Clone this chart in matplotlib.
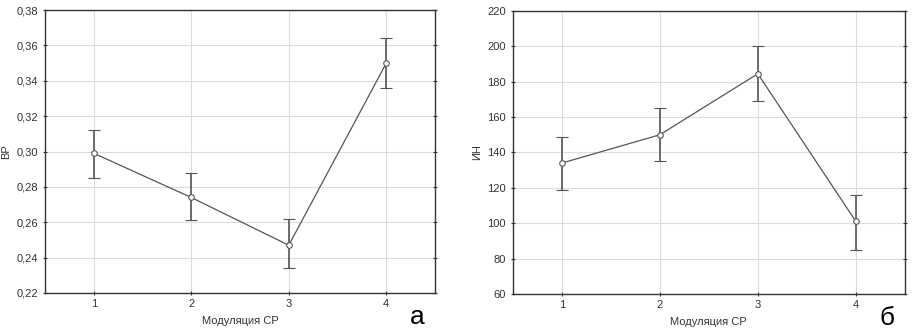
import matplotlib
matplotlib.use("Agg")
import matplotlib.pyplot as plt
from matplotlib.ticker import FuncFormatter

plt.rcParams['font.family'] = ['Liberation Sans', 'DejaVu Sans']

# data
groups = [1, 2, 3, 4]
vr_mean = [0.299, 0.274, 0.247, 0.350]
vr_low = [0.285, 0.261, 0.234, 0.336]
vr_high = [0.312, 0.288, 0.262, 0.364]
in_mean = [134, 150, 184.5, 101]
in_low = [119, 135, 169, 85]
in_high = [149, 165, 200, 116]
x_label = "Модуляция СР"


def draw_panel(ax, mean, low, high, ylim, yticks, ylabel, letter, fmt):
    err = [[m - l for m, l in zip(mean, low)], [h - m for m, h in zip(mean, high)]]
    ax.errorbar(groups, mean, yerr=err, color="#555555", lw=0.9, elinewidth=1.2,
                capsize=4.5, capthick=1.2, marker="o", ms=4, mfc="white",
                mec="#555555", mew=0.8, zorder=3)
    ax.set_xlim(0.5, 4.5)
    ax.set_ylim(*ylim)
    ax.set_xticks(groups)
    ax.set_yticks(yticks)
    ax.yaxis.set_major_formatter(FuncFormatter(fmt))
    ax.grid(True, color="#dddddd", lw=0.8)
    ax.set_axisbelow(True)
    for s in ax.spines.values():
        s.set_color("#333333")
        s.set_linewidth(1.0)
    ax.tick_params(axis="both", labelsize=8, colors="#333333", length=3,
                   direction="inout", width=0.8)
    ax.tick_params(axis="y", right=True)
    ax.tick_params(axis="x", pad=3)
    ax.set_ylabel(ylabel, fontsize=8, color="#333333", labelpad=4)
    ax.set_xlabel(x_label, fontsize=8, color="#333333", labelpad=5)
    ax.text(0.955, -0.085, letter, transform=ax.transAxes, fontsize=19,
            ha="center", va="center", color="black")


fig = plt.figure(figsize=(9.14, 3.34), dpi=100)
ax1 = fig.add_axes([0.0492, 0.1228, 0.4268, 0.8472])
ax2 = fig.add_axes([0.561, 0.120, 0.429, 0.847])

draw_panel(ax1, vr_mean, vr_low, vr_high, (0.22, 0.38),
           [0.22, 0.24, 0.26, 0.28, 0.30, 0.32, 0.34, 0.36, 0.38], "ВР", "а",
           lambda v, p: f"{v:.2f}".replace(".", ","))
draw_panel(ax2, in_mean, in_low, in_high, (60, 220),
           list(range(60, 221, 20)), "ИН", "б",
           lambda v, p: f"{v:.0f}")

fig.savefig("out.png", dpi=100, facecolor="white")
